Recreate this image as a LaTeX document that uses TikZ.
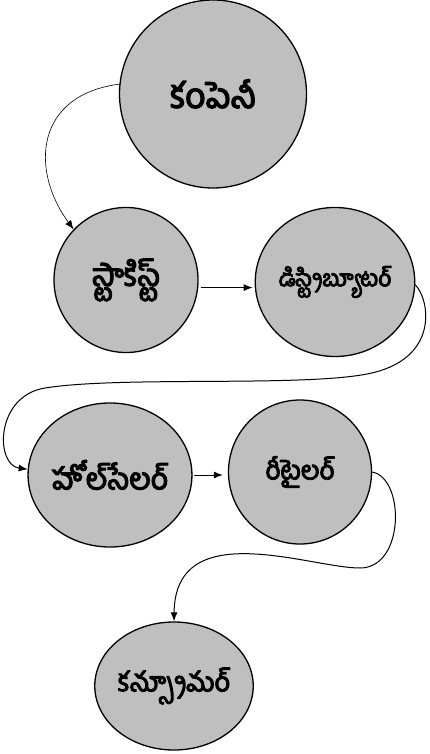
\documentclass[tikz,border=0pt]{standalone}
\usepackage{fontspec}
\newfontfamily\telugu[Script=Telugu,FakeBold=4]{Hind Guntur}
\usetikzlibrary{arrows.meta,shapes.geometric}
\tikzset{
  stage/.style={ellipse,draw,line width=1.3pt,fill=black!25,inner sep=0pt},
  glyph/.style={font=\telugu\fontsize{#1}{#1}\selectfont},
  flow/.style={-{Latex[length=9pt,width=7pt]},line width=1pt},
}
\begin{document}
\begin{tikzpicture}[x=1pt,y=-1pt,line cap=round,line join=round]
    \useasboundingbox (0,0) rectangle (429,754);

    % stages of the chain
    \node[stage,glyph=35,minimum width=187pt,minimum height=188pt] (company) at (213,94) {కంపెనీ};
    \node[stage,glyph=31,minimum width=144pt,minimum height=145pt] (stock) at (126,280) {స్టాకిస్ట్};
    \node[stage,glyph=23,minimum width=148pt,minimum height=149pt] (dist) at (335,282) {డిస్ట్రిబ్యూటర్};
    \node[stage,glyph=30,minimum width=145pt,minimum height=144pt] (whole) at (110,475) {హోల్‌సేలర్};
    \node[stage,glyph=26,minimum width=143pt,minimum height=144pt] (retail) at (300,472) {రీటైలర్};
    \node[stage,glyph=27,minimum width=142pt,minimum height=128pt] (cons) at (174,686) {కన్స్యూమర్};

    % company to stockist
    \draw[flow,line width=0.6pt] (company.174) .. controls (35,95) and (30,170) .. (stock.136);

    % stockist to distributor
    \draw[flow,shorten <=3pt,shorten >=2pt] (stock.-6) -- (stock.-6 -| dist.west);

    % distributor round to wholesaler
    \draw[flow] (dist.358) .. controls (430,300) and (440,360) .. (367,374)
      .. controls (300,387) and (120,376) .. (45,388)
      .. controls (-5,396) and (-5,465) .. (whole.176);

    % wholesaler to retailer
    \draw[flow,shorten <=2pt,shorten >=5pt] (whole.east) -- (whole.east -| retail.west);

    % retailer down to consumer
    \draw[flow] (retail.east) .. controls (405,478) and (405,568) .. (360,568)
      .. controls (310,568) and (175,515) .. (cons.north);
  \end{tikzpicture}
\end{document}
